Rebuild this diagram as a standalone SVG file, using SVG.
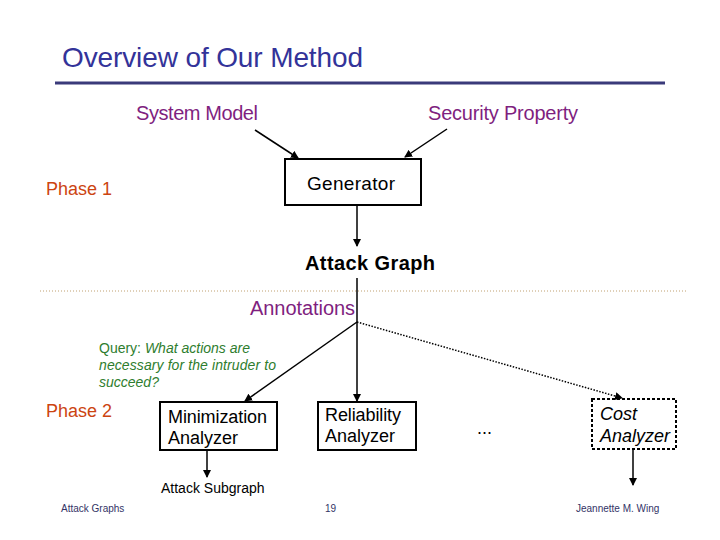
<svg xmlns="http://www.w3.org/2000/svg" width="720" height="540" viewBox="0 0 720 540">
<style>
text{font-family:"Liberation Sans",Arial,sans-serif}
.title{font-size:28px;fill:#333399}
.in{font-size:20px;fill:#7F1F7F}
.phase{font-size:18px;fill:#CC4411}
.lbl{font-size:18px;fill:#000}
.q{font-size:14px;fill:#2E7D2E}
.foot{font-size:10px;fill:#333366}
.box{fill:#fff;stroke:#000;stroke-width:2}
.edge{stroke:#000;stroke-width:1.5;fill:none}
</style>
<defs>
<marker id="ah" markerWidth="8" markerHeight="8" refX="7" refY="4" orient="auto" markerUnits="userSpaceOnUse">
<path d="M0,0 L8,4 L0,8 Z" fill="#000"/>
</marker>
</defs>
<rect width="720" height="540" fill="#fff"/>
<text class="title" x="62" y="67" textLength="301">Overview of Our Method</text>
<line x1="55" y1="83" x2="665" y2="83" stroke="#3A3A7A" stroke-width="3"/>
<line x1="40" y1="291" x2="686" y2="291" stroke="#C0A070" stroke-width="1" stroke-dasharray="1,2"/>
<text class="phase" x="46" y="195">Phase 1</text>
<text class="phase" x="46" y="417">Phase 2</text>
<g id="system-model"><text class="in" x="136" y="120" textLength="122">System Model</text></g>
<g id="security-property"><text class="in" x="428" y="120" textLength="150">Security Property</text></g>
<g id="generator"><rect class="box" x="285" y="159" width="136" height="46"/><text x="307" y="190" font-size="19" textLength="88">Generator</text></g>
<g id="attack-graph"><text x="305" y="270" font-size="20" font-weight="bold" fill="#000" textLength="130">Attack Graph</text></g>
<g id="annotations"><text class="in" x="250" y="315" textLength="105">Annotations</text></g>
<g id="query"><text class="q" x="99" y="353">Query: <tspan font-style="italic">What actions are</tspan></text><text class="q" x="99" y="370" font-style="italic" textLength="177">necessary for the intruder to</text><text class="q" x="99" y="387" font-style="italic">succeed?</text></g>
<g id="minimization"><rect class="box" x="160" y="402" width="117" height="48"/><text class="lbl" x="168" y="423" textLength="99">Minimization</text><text class="lbl" x="168" y="444">Analyzer</text></g>
<g id="reliability"><rect class="box" x="318" y="402" width="98" height="48"/><text class="lbl" x="325" y="421" textLength="76">Reliability</text><text class="lbl" x="325" y="442">Analyzer</text></g>
<g id="ellipsis"><text class="lbl" x="477" y="434">...</text></g>
<g id="cost"><rect x="592" y="399" width="84" height="50" fill="#fff" stroke="#000" stroke-width="2" stroke-dasharray="3,2"/><text class="lbl" x="600" y="420" font-style="italic">Cost</text><text class="lbl" x="600" y="442" font-style="italic">Analyzer</text></g>
<g id="attack-subgraph"><text x="161" y="493" font-size="14" fill="#000">Attack Subgraph</text></g>
<g id="connectors">
<line class="edge" x1="255" y1="130" x2="298" y2="158" marker-end="url(#ah)"/>
<line class="edge" x1="447" y1="129" x2="405" y2="157" marker-end="url(#ah)"/>
<line class="edge" x1="357" y1="205" x2="357" y2="246" marker-end="url(#ah)"/>
<line class="edge" x1="357" y1="278" x2="357" y2="322"/>
<line class="edge" x1="357" y1="322" x2="245" y2="401" marker-end="url(#ah)"/>
<line class="edge" x1="357" y1="322" x2="357" y2="401" marker-end="url(#ah)"/>
<line class="edge" x1="357" y1="322" x2="622" y2="398" stroke-dasharray="1.5,1.5" stroke-width="1.2" marker-end="url(#ah)"/>
<line class="edge" x1="207" y1="450" x2="207" y2="477" marker-end="url(#ah)"/>
<line class="edge" x1="633" y1="449" x2="633" y2="485" marker-end="url(#ah)"/>
</g>
<g id="footer"><text class="foot" x="61" y="512">Attack Graphs</text><text class="foot" x="325" y="512">19</text><text class="foot" x="576" y="512">Jeannette M. Wing</text></g>
</svg>
